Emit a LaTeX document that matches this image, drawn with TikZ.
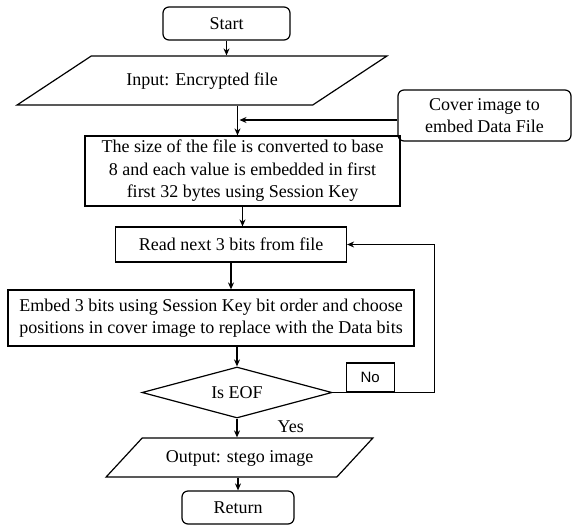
\documentclass[tikz,border=0pt]{standalone}
\usepackage{fontspec}
\setmainfont{Liberation Serif}
\newfontfamily\labelsans{Liberation Sans}
\usetikzlibrary{shapes.geometric,arrows.meta,positioning}

\begin{document}
\begin{tikzpicture}[x=1pt,y=-1pt,line width=1.2pt,
    font=\fontsize{18}{22.5}\selectfont]
  \tikzset{
    box/.style={draw,align=center,inner sep=0pt},
    term/.style={box,rounded corners=6pt},
    proc/.style={box,rectangle},
    iobox/.style={box,trapezium,trapezium stretches=true,
      text height=13pt,text depth=4pt},
    decision/.style={box,diamond,aspect=3.7},
    nobox/.style={box,font=\labelsans\fontsize{15}{18}\selectfont,
      minimum width=48pt,minimum height=29pt},
    lbl/.style={inner sep=2pt},
    arr/.style={-{Stealth[length=7pt,width=6pt]}}
  }
  \useasboundingbox (0,0) rectangle (572,525);

  \node[term,minimum width=127pt,minimum height=33pt] (start) at (226.5,23.5) {Start};
  \node[iobox,trapezium left angle=44,trapezium right angle=136,inner ysep=16pt,
    minimum width=370pt] (input) at (202,80.5) {Input: Encrypted file};
  \node[term,minimum width=173pt,minimum height=51pt] (cover) at (484.5,115.5)
    {Cover image to\\embed Data File};
  \node[proc,minimum width=315pt,minimum height=70pt] (size) at (242.5,171)
    {The size of the file is converted to base\\8 and each value is embedded in first\\first 32 bytes using Session Key};
  \node[proc,minimum width=231pt,minimum height=35pt] (read) at (231,244.5)
    {Read next 3 bits from file};
  \node[proc,minimum width=406pt,minimum height=56pt] (embed) at (211,318)
    {Embed 3 bits using Session Key bit order and choose\\positions in cover image to replace with the Data bits};
  \node[decision,minimum width=190pt,minimum height=51pt] (eof) at (237,392.5) {Is EOF};
  \node[iobox,trapezium left angle=55,trapezium right angle=125,inner ysep=11pt,
    minimum width=267pt] (output) at (239.5,457.5) {Output: stego image};
  \node[term,minimum width=112pt,minimum height=33pt] (return) at (238,507.5) {Return};

  \node[nobox,above right=0pt and 13pt of eof.east,anchor=south west] (no) {No};
  \node[lbl,below right=0pt and 38pt of eof.south,anchor=north west] (yes) {Yes};

  \coordinate (join) at ([xshift=-5pt]size.north |- cover.west);
  \coordinate (loop) at ([xshift=87pt]read.east |- eof.east);

  \draw[arr] (start.south) -- (start.south |- input.north);
  \draw[arr] ([xshift=-5pt]size.north |- input.south) -- ([xshift=-5pt]size.north);
  \draw[arr] ([yshift=-4.5pt]cover.west) -- ([yshift=-4.5pt,xshift=2pt]join);
  \draw[arr] (size.south) -- (size.south |- read.north);
  \draw[arr] (read.south) -- (read.south |- embed.north);
  \draw[arr] (eof.north |- embed.south) -- (eof.north);
  \draw[arr] (eof.south) -- (eof.south |- output.north);
  \draw[arr] (return.north |- output.south) -- (return.north);
  \draw[arr] (eof.east) -- (loop) |- (read.east);
\end{tikzpicture}
\end{document}
